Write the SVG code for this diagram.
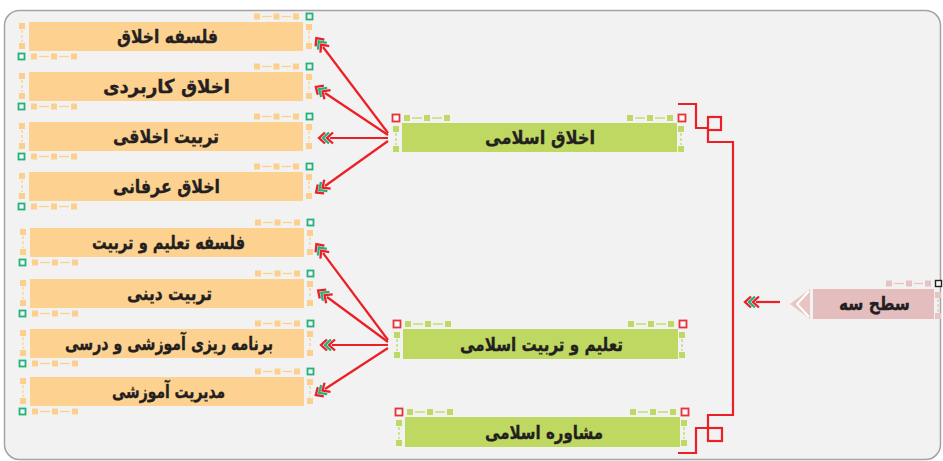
<svg xmlns="http://www.w3.org/2000/svg" width="943" height="461" viewBox="0 0 943 461">
<style>
.frame{fill:#f2f2f2;stroke:#a3a3a3;stroke-width:1.5}
.on{fill:#fdd190}
.gn{fill:#bfd861}
.pn{fill:#e4bebf}
.t{font-family:"DejaVu Sans","Noto Sans",sans-serif;font-weight:bold;font-size:19px;fill:#231f20;stroke:#231f20;stroke-width:0.35;text-anchor:middle}
.oh{fill:#fccf8c}
.ol{stroke:#fccf8c;stroke-width:1.3}
.gh{fill:#bed966}
.gl{stroke:#bed966;stroke-width:1.3}
.ph{fill:#e6c3c4}
.pl{stroke:#e6c3c4;stroke-width:1.3}
.gsq{fill:#f7f7f7;stroke:#22b27a;stroke-width:1.8}
.rsq{fill:#f7f7f7;stroke:#e8323a;stroke-width:1.8}
.ksq{fill:#f7f7f7;stroke:#222;stroke-width:1.4}
.dash{stroke-dasharray:3 2}
.con{fill:none;stroke:#ec1f27;stroke-width:2.2}
.arr{fill:none;stroke:#ec1f27;stroke-width:2.2;marker-end:url(#dch)}
</style>
<defs>
<marker id="dch" markerUnits="userSpaceOnUse" viewBox="0 0 22 14" markerWidth="22" markerHeight="14" refX="9" refY="7" orient="auto">
<polyline points="14,1.5 20,7 14,12.5" fill="none" stroke="#ec1f27" stroke-width="2.3"/>
<polyline points="10,1.5 16,7 10,12.5" fill="none" stroke="#22b27a" stroke-width="2.3"/>
<polyline points="6,1.5 12,7 6,12.5" fill="none" stroke="#ec1f27" stroke-width="2.3"/>
</marker>
<g id="odeco">
<rect class="oh" x="225" y="-8.5" width="6" height="6"/><rect class="oh" x="244.5" y="-8.5" width="6" height="6"/><rect class="oh" x="264" y="-8.5" width="6" height="6"/>
<line class="ol" x1="233" y1="-5.5" x2="242.5" y2="-5.5"/><line class="ol" x1="252.5" y1="-5.5" x2="262" y2="-5.5"/>
<rect class="gsq" x="277.5" y="-8.5" width="6" height="6"/>
<rect class="oh" x="277" y="2" width="6" height="6"/><rect class="oh" x="277" y="21" width="6" height="6"/>
<line class="ol dash" x1="280" y1="9" x2="280" y2="20"/>
<rect class="oh" x="-10" y="1" width="6" height="6"/><rect class="oh" x="-10" y="21" width="6" height="6"/>
<line class="ol dash" x1="-7" y1="8" x2="-7" y2="20"/>
<rect class="gsq" x="-10.5" y="31.5" width="6" height="6"/>
<rect class="oh" x="2" y="31.5" width="6" height="6"/><rect class="oh" x="22" y="31.5" width="6" height="6"/><rect class="oh" x="42" y="31.5" width="6" height="6"/>
<line class="ol" x1="10" y1="34.5" x2="20" y2="34.5"/><line class="ol" x1="30" y1="34.5" x2="40" y2="34.5"/>
</g>
<g id="gdeco">
<rect class="rsq" x="-9.5" y="-8.5" width="7" height="7"/><rect class="rsq" x="276.5" y="-8.5" width="7" height="7"/>
<rect class="gh" x="2" y="-8" width="6" height="6"/><rect class="gh" x="22" y="-8" width="6" height="6"/><rect class="gh" x="42" y="-8" width="6" height="6"/>
<line class="gl" x1="10" y1="-5" x2="20" y2="-5"/><line class="gl" x1="30" y1="-5" x2="40" y2="-5"/>
<rect class="gh" x="225" y="-8" width="6" height="6"/><rect class="gh" x="245" y="-8" width="6" height="6"/><rect class="gh" x="265" y="-8" width="6" height="6"/>
<line class="gl" x1="233" y1="-5" x2="243" y2="-5"/><line class="gl" x1="253" y1="-5" x2="263" y2="-5"/>
<rect class="gh" x="-9" y="3" width="6" height="6"/><rect class="gh" x="-9" y="23" width="6" height="6"/>
<line class="gl dash" x1="-6" y1="10" x2="-6" y2="22"/>
<rect class="gh" x="276" y="3" width="6" height="6"/><rect class="gh" x="276" y="23" width="6" height="6"/>
<line class="gl dash" x1="279" y1="10" x2="279" y2="22"/>
</g>
</defs>
<rect width="943" height="461" fill="#ffffff"/>
<rect class="frame" x="4.5" y="10.5" width="936" height="449" rx="15"/>

<g id="n1"><rect class="on" x="29" y="22" width="274" height="29"/><use href="#odeco" x="29" y="22"/><text class="t" x="167.5" y="43" textLength="101" lengthAdjust="spacingAndGlyphs">فلسفه اخلاق</text></g>
<g id="n2"><rect class="on" x="29" y="72" width="274" height="29"/><use href="#odeco" x="29" y="72"/><text class="t" x="166.5" y="93" textLength="127" lengthAdjust="spacingAndGlyphs">اخلاق کاربردی</text></g>
<g id="n3"><rect class="on" x="29" y="122" width="274" height="29"/><use href="#odeco" x="29" y="122"/><text class="t" x="166" y="143" textLength="106" lengthAdjust="spacingAndGlyphs">تربیت اخلاقی</text></g>
<g id="n4"><rect class="on" x="29" y="172" width="274" height="29"/><use href="#odeco" x="29" y="172"/><text class="t" x="166.5" y="193" textLength="107" lengthAdjust="spacingAndGlyphs">اخلاق عرفانی</text></g>
<g id="n5"><rect class="on" x="30" y="228" width="274" height="29"/><use href="#odeco" x="30" y="228"/><text class="t" x="168.5" y="249" textLength="153" lengthAdjust="spacingAndGlyphs">فلسفه تعلیم و تربیت</text></g>
<g id="n6"><rect class="on" x="30" y="279" width="274" height="29"/><use href="#odeco" x="30" y="279"/><text class="t" x="169.5" y="300" textLength="85" lengthAdjust="spacingAndGlyphs">تربیت دینی</text></g>
<g id="n7"><rect class="on" x="30" y="329" width="274" height="29"/><use href="#odeco" x="30" y="329"/><text class="t" x="169" y="350" textLength="208" lengthAdjust="spacingAndGlyphs">برنامه ریزی آموزشی و درسی</text></g>
<g id="n8"><rect class="on" x="30" y="377" width="274" height="29"/><use href="#odeco" x="30" y="377"/><text class="t" x="168.5" y="398" textLength="113" lengthAdjust="spacingAndGlyphs">مدیریت آموزشی</text></g>

<g id="g1"><rect class="gn" x="402" y="123" width="275" height="29"/><use href="#gdeco" x="402" y="123"/><text class="t" x="540" y="144" textLength="110" lengthAdjust="spacingAndGlyphs">اخلاق اسلامی</text></g>
<g id="g2"><rect class="gn" x="403" y="329" width="275" height="30"/><use href="#gdeco" x="403" y="329"/><text class="t" x="541.5" y="351" textLength="163" lengthAdjust="spacingAndGlyphs">تعلیم و تربیت اسلامی</text></g>
<g id="g3"><rect class="gn" x="405" y="417" width="275" height="30"/><use href="#gdeco" x="405" y="417"/><text class="t" x="544" y="439" textLength="118" lengthAdjust="spacingAndGlyphs">مشاوره اسلامی</text></g>

<g id="p1">
<polygon points="790,304 810,289 810,319" fill="#e8c4c5"/>
<polyline points="809,291 797,304 809,317" fill="none" stroke="#ffffff" stroke-width="2"/>
<rect class="pn" x="813" y="289" width="121" height="30"/>
<rect class="ph" x="886" y="280.5" width="6" height="6"/><rect class="ph" x="906" y="280.5" width="6" height="6"/><rect class="ph" x="925" y="280.5" width="6" height="6"/>
<line class="pl" x1="894" y1="283.5" x2="904" y2="283.5"/><line class="pl" x1="914" y1="283.5" x2="923" y2="283.5"/>
<rect class="ksq" x="935.5" y="280.5" width="6" height="6"/>
<rect class="ph" x="935" y="292" width="6" height="6"/><rect class="ph" x="935" y="313" width="6" height="6"/>
<line class="pl dash" x1="938" y1="299" x2="938" y2="312"/>
<text class="t" x="874.5" y="310" textLength="71" lengthAdjust="spacingAndGlyphs">سطح سه</text>
</g>

<g id="connectors">
<line class="arr" x1="388" y1="133" x2="323" y2="47"/>
<line class="arr" x1="388" y1="135" x2="325" y2="93"/>
<line class="arr" x1="388" y1="138" x2="330" y2="138"/>
<line class="arr" x1="388" y1="141" x2="325" y2="186"/>
<line class="arr" x1="388" y1="340" x2="323" y2="253"/>
<line class="arr" x1="388" y1="342" x2="327" y2="297"/>
<line class="arr" x1="388" y1="345" x2="332" y2="345"/>
<line class="arr" x1="388" y1="348" x2="325" y2="389"/>
<line class="arr" x1="780" y1="302" x2="756" y2="302"/>
<path class="con" d="M678,104 H696 V128 H708 M708,130 V142 H733 V415 H708 V428 M708,428 H696 V453 H678"/>
<rect class="con" x="708" y="117" width="13" height="13"/>
<rect class="con" x="708" y="428" width="14" height="13"/>
</g>
</svg>
